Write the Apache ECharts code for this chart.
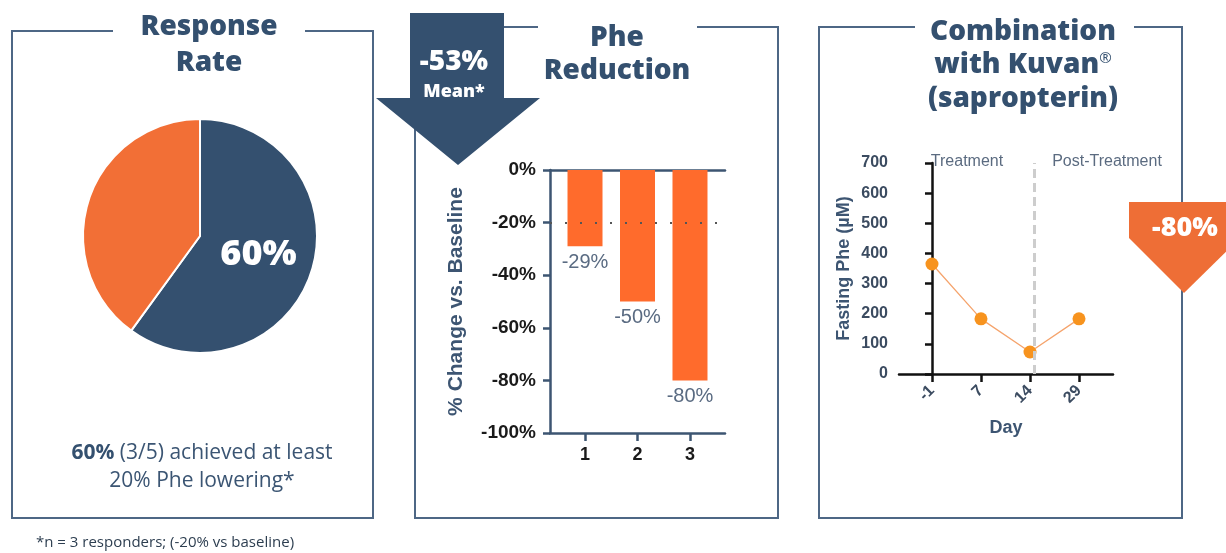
<!DOCTYPE html>
<html><head><meta charset="utf-8">
<script src="https://cdn.jsdelivr.net/npm/echarts@6/dist/echarts.min.js"></script>
<style>html,body{margin:0;padding:0;background:#fff}#c{width:1226px;height:553px}</style>
</head><body><div id="c"></div>
<script>
// ---------- data ----------
const pieNames = ['Responders', 'Non-responders'];
const pieValues = [60, 40];
const barCategories = [1, 2, 3];
const barValues = [-29, -50, -80];
const barThreshold = -20;
const dayLabels = ['-1', '7', '14', '29'];
const dayIndex = [0, 1, 2, 3];
const pheValues = [365, 183, 73, 183];
const treatmentEndIndex = 2.08;
const meanText = '-53%';
const comboText = '-80%';

// ---------- styles ----------
const NAVY = '#34506f';
const BORDER = '#4e6785';
const PIE_ORANGE = '#f26f36';
const BAR_ORANGE = '#ff6b2c';
const BADGE = '#ee6e36';
const POINT = '#f7931e';
const LINE = '#f5a46d';
const AX = '#3d5572';
const TITLE_FONT = '"Open Sans", sans-serif';
const BODY_FONT = '"Open Sans", sans-serif';
const CHART_FONT = '"Liberation Sans", Arial, sans-serif';

const chart = echarts.init(document.getElementById('c'), null, {renderer: 'canvas'});

function title(text, x, y, extra) {
  return {type: 'text', x: x, y: y, z: 10, style: Object.assign({
    text: text, fill: NAVY, font: '800 28px ' + TITLE_FONT,
    align: 'center', verticalAlign: 'middle'
  }, extra || {})};
}
function border(points) {
  return {type: 'polyline', z: 1, shape: {points: points},
    style: {stroke: BORDER, lineWidth: 2, fill: null}};
}

const option = {
  animation: false,
  backgroundColor: '#fff',
  grid: [
    {left: 550, top: 170, width: 175, height: 263},
    {left: 899, top: 163, width: 214, height: 211}
  ],
  xAxis: [
    {gridIndex: 0, type: 'value', min: 0.333, max: 3.667, position: 'bottom',
      axisLine: {show: true, onZero: false, lineStyle: {color: AX, width: 2.5}},
      axisTick: {show: true, customValues: barCategories, length: 8, lineStyle: {color: AX, width: 2.5}},
      axisLabel: {customValues: barCategories, color: '#1a1a1a', fontSize: 18, fontWeight: 'bold', fontFamily: CHART_FONT, margin: 13},
      splitLine: {show: false}},
    {gridIndex: 0, type: 'value', min: 0.333, max: 3.667, position: 'top',
      axisLine: {show: true, onZero: false, lineStyle: {color: AX, width: 2.5}},
      axisTick: {show: false}, axisLabel: {show: false}, splitLine: {show: false}},
    {gridIndex: 1, type: 'value', min: -0.673, max: 3.694, position: 'bottom',
      axisLine: {show: true, onZero: false, lineStyle: {color: '#111', width: 2.5}},
      axisTick: {show: true, customValues: dayIndex, length: 8, lineStyle: {color: '#111', width: 2.5}},
      axisLabel: {customValues: dayIndex, formatter: v => dayLabels[Math.round(v)], rotate: 45,
        color: '#3b4b60', fontSize: 16, fontWeight: 'bold', fontFamily: CHART_FONT, margin: 14},
      splitLine: {show: false},
      name: 'Day', nameLocation: 'middle', nameGap: 45,
      nameTextStyle: {color: AX, fontSize: 18, fontWeight: 'bold', fontFamily: CHART_FONT}}
  ],
  yAxis: [
    {gridIndex: 0, type: 'value', min: -100, max: 0, interval: 20,
      axisLine: {show: true, lineStyle: {color: AX, width: 2.5}},
      axisTick: {show: true, length: 7, lineStyle: {color: AX, width: 2.5}},
      axisLabel: {formatter: '{value}%', color: '#1a1a1a', fontSize: 19, fontWeight: 'bold', fontFamily: CHART_FONT, margin: 14},
      splitLine: {show: false},
      name: '% Change vs. Baseline', nameLocation: 'middle', nameGap: 83,
      nameTextStyle: {color: AX, fontSize: 21, fontWeight: 'bold', fontFamily: CHART_FONT}},
    {gridIndex: 1, type: 'value', min: 0, max: 700, interval: 100,
      axisLine: {show: true, lineStyle: {color: '#111', width: 2.5}},
      axisTick: {show: true, length: 7, lineStyle: {color: '#111', width: 2.5}},
      axisLabel: {color: '#3b4b60', fontSize: 16, fontWeight: 'bold', fontFamily: CHART_FONT, margin: 11},
      splitLine: {show: false},
      name: 'Fasting Phe (µM)', nameLocation: 'middle', nameGap: 46,
      nameTextStyle: {color: AX, fontSize: 18, fontWeight: 'bold', fontFamily: CHART_FONT}}
  ],
  series: [
    {type: 'pie', center: [200, 236], radius: 117, startAngle: 90, clockwise: true,
      silent: true, labelLine: {show: false},
      itemStyle: {borderColor: '#fff', borderWidth: 2},
      data: pieNames.map((n, i) => ({
        name: n, value: pieValues[i],
        itemStyle: {color: i === 0 ? NAVY : PIE_ORANGE},
        label: i === 0 ? {show: true, position: 'inside', formatter: '{d}%', color: '#fff',
          fontSize: 36, fontWeight: 800, fontFamily: TITLE_FONT} : {show: false}
      }))},
    {type: 'line', xAxisIndex: 0, yAxisIndex: 0, z: 1, silent: true,
      data: barCategories.map(c => [c, barThreshold]), symbol: 'none', lineStyle: {opacity: 0},
      markLine: {silent: true, symbol: 'none', label: {show: false},
        lineStyle: {type: [2, 13], color: '#555', width: 2},
        data: [{yAxis: barThreshold}]}},
    {type: 'bar', xAxisIndex: 0, yAxisIndex: 0, z: 3, barWidth: 35,
      data: barCategories.map((c, i) => [c, barValues[i]]),
      itemStyle: {color: BAR_ORANGE},
      label: {show: true, position: 'bottom', distance: 6, formatter: p => p.value[1] + '%',
        color: '#5a6b82', fontSize: 20, fontFamily: CHART_FONT}},
    {type: 'line', xAxisIndex: 2, yAxisIndex: 1, z: 1, silent: true,
      data: [[treatmentEndIndex, 0]], symbol: 'none', lineStyle: {opacity: 0},
      markLine: {silent: true, symbol: 'none', label: {show: false},
        lineStyle: {type: [9, 5], color: '#cdcdcd', width: 3},
        data: [[{coord: [treatmentEndIndex, 0]}, {coord: [treatmentEndIndex, 700]}]]}},
    {type: 'line', xAxisIndex: 2, yAxisIndex: 1, z: 4,
      data: dayIndex.map(i => [i, pheValues[i]]),
      symbol: 'circle', symbolSize: 13, showSymbol: true,
      itemStyle: {color: POINT}, lineStyle: {color: LINE, width: 1.3}}
  ],
  graphic: [
    // panel borders
    border([[113, 31], [12, 31], [12, 518], [373, 518], [373, 31], [305, 31]]),
    border([[538, 27], [415, 27], [415, 518], [778, 518], [778, 27], [697, 27]]),
    border([[915, 27], [819, 27], [819, 518], [1182, 518], [1182, 27], [1134, 27]]),
    // titles
    title('Response', 209, 27),
    title('Rate', 209, 63),
    title('Phe', 617, 38),
    title('Reduction', 617, 71),
    title('Combination', 1023, 32),
    {type: 'text', x: 1023, y: 65, z: 10, style: {
      text: 'with Kuvan{r|®}', fill: NAVY, font: '800 28px ' + TITLE_FONT,
      align: 'center', verticalAlign: 'middle',
      rich: {r: {fontSize: 15, fontWeight: 'normal', fontFamily: TITLE_FONT, fill: NAVY, verticalAlign: 'top', padding: [0, 0, 10, 0]}}}},
    title('(sapropterin)', 1023, 99),
    // mean arrow
    {type: 'polygon', z: 5, shape: {points: [[410, 13], [504, 13], [504, 98], [540, 98], [458, 165], [376, 98], [410, 98]]},
      style: {fill: NAVY}},
    {type: 'text', x: 454, y: 62, z: 6, style: {text: meanText, fill: '#fff', font: '800 28px ' + TITLE_FONT, align: 'center', verticalAlign: 'middle'}},
    {type: 'text', x: 454, y: 92, z: 6, style: {text: 'Mean*', fill: '#fff', font: '800 18px ' + TITLE_FONT, align: 'center', verticalAlign: 'middle'}},
    // -80% badge
    {type: 'polygon', z: 5, shape: {points: [[1129, 202], [1240, 202], [1240, 238], [1184, 293], [1129, 238]]},
      style: {fill: BADGE}},
    {type: 'text', x: 1185, y: 228, z: 6, style: {text: comboText, fill: '#fff', font: '800 27px ' + TITLE_FONT, align: 'center', verticalAlign: 'middle'}},
    // phase labels
    {type: 'text', x: 967, y: 162, z: 6, style: {text: 'Treatment', fill: '#5b6b80', font: '16px ' + CHART_FONT, align: 'center', verticalAlign: 'middle'}},
    {type: 'text', x: 1107, y: 162, z: 6, style: {text: 'Post-Treatment', fill: '#5b6b80', font: '16px ' + CHART_FONT, align: 'center', verticalAlign: 'middle'}},
    // response text
    {type: 'text', x: 202, y: 467, z: 6, style: {
      text: '{b|60%} (3/5) achieved at least\n20% Phe lowering*', fill: '#3b5573',
      font: '21px ' + BODY_FONT, lineHeight: 28, align: 'center', verticalAlign: 'middle',
      rich: {b: {fontWeight: 'bold', fontSize: 21, fontFamily: BODY_FONT, fill: NAVY, lineHeight: 28}}}},
    // footnote
    {type: 'text', x: 36, y: 543, z: 6, style: {text: '*n = 3 responders; (-20% vs baseline)', fill: '#2d3e50',
      font: '15px ' + BODY_FONT, align: 'left', verticalAlign: 'middle'}}
  ]
};
chart.setOption(option);
</script>
</body></html>
